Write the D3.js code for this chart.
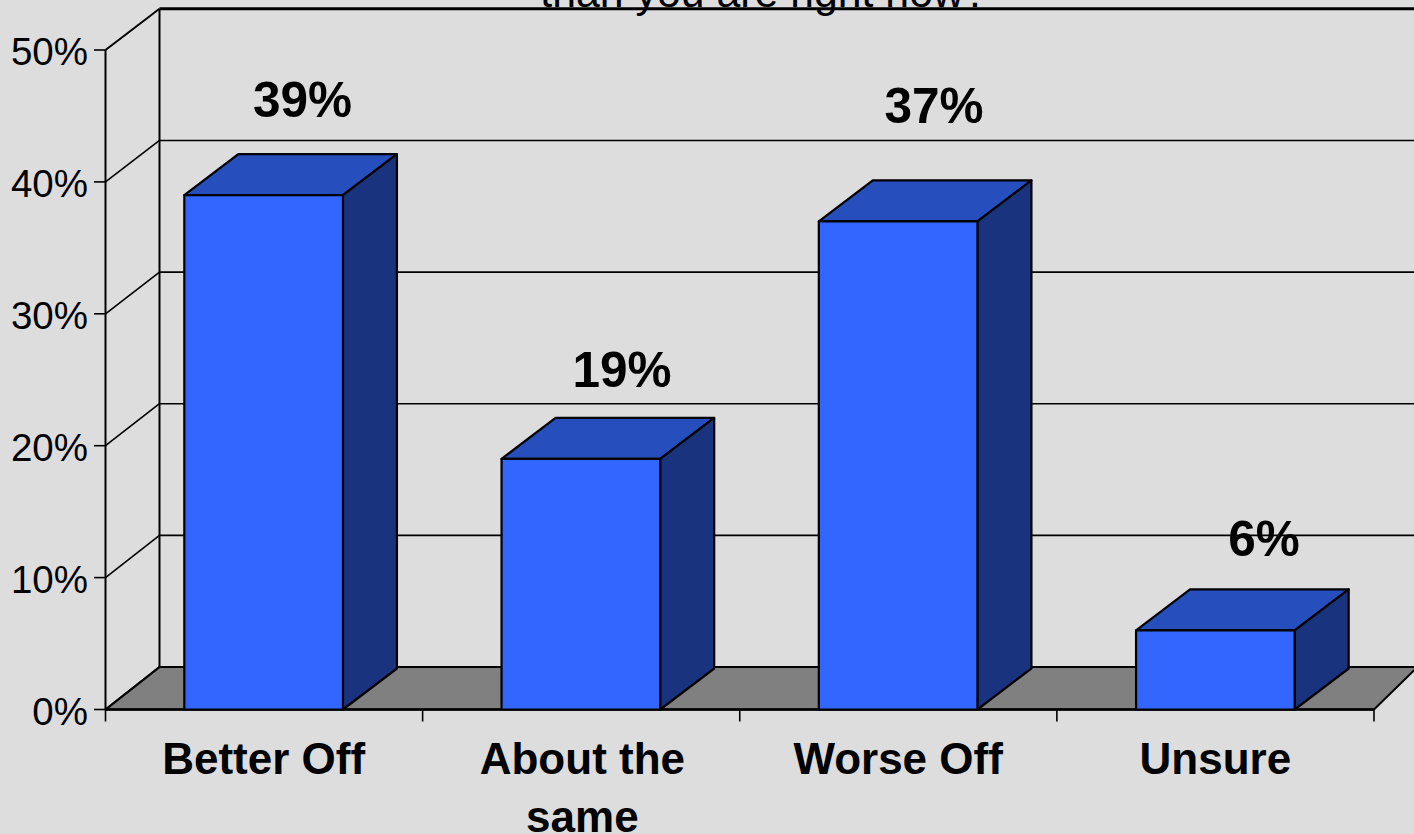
<!DOCTYPE html>
<html><head><meta charset="utf-8">
<script src="https://cdn.jsdelivr.net/npm/d3@7/dist/d3.min.js"></script>
<style>html,body{margin:0;padding:0;background:#ddd;overflow:hidden}svg{display:block}text{font-family:"Liberation Sans",Arial,sans-serif;fill:#000}</style>
</head><body><svg width="1414" height="834"></svg>
<script>
const categories=[["Better Off"],["About the","same"],["Worse Off"],["Unsure"]];
const values=[39,19,37,6];
const valueLabels=["39%","19%","37%","6%"];
const labelPos=[[302.5,117],[622,387],[934,123],[1264,556]];
const yTicks=[0,10,20,30,40,50];
const titleTail="than you are right now?";
const svg=d3.select("svg");
const x=d3.scaleBand().domain(d3.range(4)).range([105,1374]).paddingInner(.5).paddingOuter(.25);
const xEdge=d3.scaleLinear().domain([0,4]).range([105.5,1374]);
const y=d3.scaleLinear().domain([0,50]).range([709.5,50]);
const yBack=d3.scaleLinear().domain([0,50]).range([667,8.8]);
const dx=54,dy=41;
const poly=(pts,fill,sw=2.2)=>svg.append("polygon").attr("points",pts.map(p=>p.join(",")).join(" ")).attr("fill",fill).attr("stroke","#000").attr("stroke-width",sw).attr("stroke-linejoin","round");
const line=(x1,y1,x2,y2,sw=1.5)=>svg.append("line").attr("x1",x1).attr("y1",y1).attr("x2",x2).attr("y2",y2).attr("stroke","#000").attr("stroke-width",sw);
const L=105.5,R=1374,B=y(0),T=y(50);
svg.append("text").attr("x",764).attr("y",7).attr("text-anchor","middle").attr("font-size",42.8).text(titleTail);
// floor
poly([[L,B],[L+dx,yBack(0)],[1416,yBack(0)],[1416,B-dy],[R,B]],"#808080",2);
// walls
line(L+dx,yBack(50),1414,yBack(50),3);
line(L+dx,yBack(50),L+dx,yBack(0),2);
line(L,T,L,B,2);
yTicks.forEach(t=>{
  const yy=y(t);
  if(t>0&&t<50) line(L+dx,yBack(t),1414,yBack(t),1.6);
  line(L,yy,L+dx,yBack(t),t==50||t==0?2:1.6);
  line(94,yy,L,yy,1.6);
  svg.append("text").attr("x",88).attr("y",yy+15).attr("text-anchor","end").attr("font-size",38.5).text(t+"%");
});
line(L,B,R,B,2.5);
d3.range(5).forEach(i=>line(xEdge(i),B,xEdge(i),B+12,1.6));
values.forEach((v,i)=>{
  const a=x(i),w=x.bandwidth(),b=a+w,t=y(v);
  poly([[a,t],[a+dx,t-dy],[b+dx,t-dy],[b,t]],"#264fbd");
  poly([[b,t],[b+dx,t-dy],[b+dx,B-dy],[b,B]],"#19337f");
  poly([[a,t],[b,t],[b,B],[a,B]],"#3366ff");
  svg.append("text").attr("x",labelPos[i][0]).attr("y",labelPos[i][1]).attr("text-anchor","middle").attr("font-size",49.5).attr("font-weight","bold").text(valueLabels[i]);
  categories[i].forEach((c,k)=>svg.append("text").attr("x",a+w/2+(i==1?1.5:0)).attr("y",774+k*58).attr("text-anchor","middle").attr("font-size",44).attr("font-weight","bold").text(c));
});
</script></body></html>
